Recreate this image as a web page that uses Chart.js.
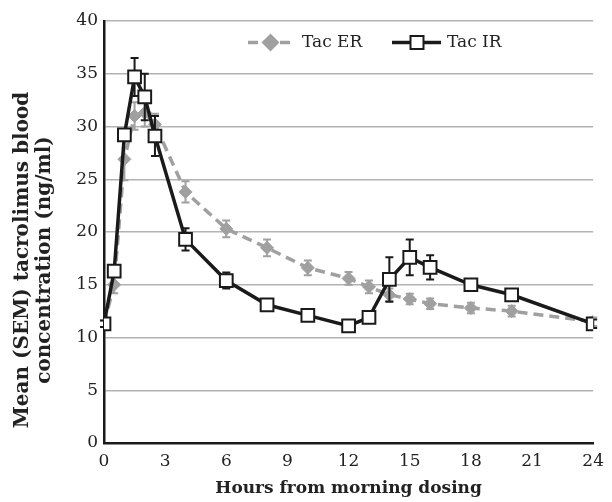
<!DOCTYPE html>
<html>
<head>
<meta charset="utf-8">
<script src="https://cdn.jsdelivr.net/npm/chart.js@4/dist/chart.umd.min.js"></script>
<style>
  html, body { margin: 0; padding: 0; background: #fff; }
</style>
</head>
<body>
<canvas id="tacChart" width="612" height="502"></canvas>
<script>
// Time points (hours after morning dose)
const hours = [0, 0.5, 1, 1.5, 2, 2.5, 4, 6, 8, 10, 12, 13, 14, 15, 16, 18, 20, 24];

// Tac ER: mean and SEM
const tacER    = [11.3, 15.0, 26.9, 31.0, 31.3, 30.2, 23.8, 20.3, 18.5, 16.6, 15.6, 14.8, 14.05, 13.65, 13.2, 12.8, 12.5, 11.5];
const tacERsem = [0.3, 0.8, 2.0, 1.3, 1.3, 1.0, 1.0, 0.8, 0.8, 0.7, 0.6, 0.6, 0.6, 0.5, 0.5, 0.5, 0.5, 0.4];

// Tac IR: mean and SEM
const tacIR    = [11.3, 16.3, 29.2, 34.7, 32.8, 29.1, 19.3, 15.4, 13.1, 12.1, 11.1, 11.9, 15.5, 17.6, 16.65, 15.0, 14.05, 11.3];
const tacIRsem = [0.3, 0.5, 0.4, 1.8, 2.2, 1.9, 1.05, 0.75, 0.5, 0.4, 0.4, 0.4, 2.1, 1.7, 1.15, 0.4, 0.4, 0.4];

const xTicks = [0, 3, 6, 9, 12, 15, 18, 21, 24];
const yTicks = [0, 5, 10, 15, 20, 25, 30, 35, 40];

const FONT = "'DejaVu Serif', serif";

// error bars drawn under each series
const errorBars = {
    id: 'errorBars',
    beforeDatasetDraw(chart, args) {
        const ds = chart.data.datasets[args.index];
        if (!ds.errors) return;
        const { ctx, scales: { x, y } } = chart;
        ctx.save();
        ctx.strokeStyle = ds.borderColor;
        ctx.lineWidth = 2;
        ds.data.forEach((p, i) => {
            const px = x.getPixelForValue(p.x);
            const top = y.getPixelForValue(p.y + ds.errors[i]);
            const bot = y.getPixelForValue(p.y - ds.errors[i]);
            ctx.beginPath();
            ctx.moveTo(px, top); ctx.lineTo(px, bot);
            ctx.moveTo(px - 4, top); ctx.lineTo(px + 4, top);
            ctx.moveTo(px - 4, bot); ctx.lineTo(px + 4, bot);
            ctx.stroke();
        });
        ctx.restore();
    }
};

// legend inside the plot + two-line y title
const extras = {
    id: 'extras',
    afterDraw(chart) {
        const ctx = chart.ctx;
        const [er, ir] = chart.data.datasets;
        const ly = 42.5;
        ctx.save();
        // Tac ER
        ctx.strokeStyle = er.borderColor;
        ctx.lineWidth = er.borderWidth;
        ctx.setLineDash(er.borderDash);
        ctx.beginPath(); ctx.moveTo(248, ly); ctx.lineTo(293, ly); ctx.stroke();
        ctx.setLineDash([]);
        Chart.helpers.drawPoint(ctx, { pointStyle: 'rectRot', radius: er.pointRadius, borderWidth: 1 }, 270.5, ly);
        ctx.fillStyle = er.pointBackgroundColor;
        ctx.fill();
        // Tac IR
        ctx.strokeStyle = ir.borderColor;
        ctx.lineWidth = ir.borderWidth;
        ctx.beginPath(); ctx.moveTo(392, ly); ctx.lineTo(441, ly); ctx.stroke();
        ctx.fillStyle = '#fff';
        ctx.fillRect(410.5, ly - 6.5, 13, 13);
        ctx.lineWidth = 2;
        ctx.strokeRect(410.5, ly - 6.5, 13, 13);

        ctx.fillStyle = '#222';
        ctx.font = '17px ' + FONT;
        ctx.textBaseline = 'middle';
        ctx.textAlign = 'left';
        ctx.fillText('Tac ER', 302, ly);
        ctx.fillText('Tac IR', 447, ly);

        // y axis title
        ctx.font = 'bold 20px ' + FONT;
        ctx.textAlign = 'center';
        ctx.translate(0, 260);
        ctx.rotate(-Math.PI / 2);
        ctx.fillText('Mean (SEM) tacrolimus blood', 0, 23);
        ctx.fillText('concentration (ng/ml)', 0, 45);
        ctx.restore();
    }
};

new Chart(document.getElementById('tacChart'), {
    type: 'line',
    data: {
        datasets: [{
            label: 'Tac ER',
            data: hours.map((h, i) => ({ x: h, y: tacER[i] })),
            errors: tacERsem,
            borderColor: '#a0a0a0',
            borderWidth: 3.5,
            borderDash: [10, 6],
            pointStyle: 'rectRot',
            pointRadius: 6.5,
            pointBackgroundColor: '#a0a0a0',
            pointBorderColor: '#a0a0a0',
            pointBorderWidth: 1,
            tension: 0,
            order: 2
        }, {
            label: 'Tac IR',
            data: hours.map((h, i) => ({ x: h, y: tacIR[i] })),
            errors: tacIRsem,
            borderColor: '#1a1a1a',
            borderWidth: 3.5,
            pointStyle: 'rect',
            pointRadius: 9,
            pointBackgroundColor: '#ffffff',
            pointBorderColor: '#1a1a1a',
            pointBorderWidth: 2,
            tension: 0,
            order: 1
        }]
    },
    options: {
        responsive: false,
        animation: false,
        devicePixelRatio: 1,
        layout: { padding: { top: 21, right: 14, left: 0, bottom: 0 } },
        plugins: {
            legend: { display: false },
            tooltip: { enabled: false }
        },
        scales: {
            x: {
                type: 'linear',
                min: 0,
                max: 24,
                afterBuildTicks: axis => { axis.ticks = xTicks.map(v => ({ value: v })); },
                afterFit: axis => { axis.height = 59; },
                grid: { display: false, drawTicks: false },
                border: { color: '#1a1a1a', width: 2.5 },
                ticks: { color: '#222', padding: 8, font: { family: FONT, size: 17 } },
                title: {
                    display: true,
                    text: 'Hours from morning dosing',
                    color: '#222',
                    padding: { top: 0, bottom: 3 },
                    font: { family: FONT, size: 17, weight: 'bold' }
                }
            },
            y: {
                min: 0,
                max: 40,
                afterBuildTicks: axis => { axis.ticks = yTicks.map(v => ({ value: v })); },
                afterFit: axis => { axis.width = 104; },
                grid: {
                    drawTicks: false,
                    lineWidth: 1.5,
                    color: c => c.tick && c.tick.value === 0 ? 'rgba(0,0,0,0)' : '#b3b3b3'
                },
                border: { color: '#1a1a1a', width: 2.5 },
                ticks: { color: '#222', padding: 6, font: { family: FONT, size: 17 } }
            }
        }
    },
    plugins: [errorBars, extras]
});
</script>
</body>
</html>
